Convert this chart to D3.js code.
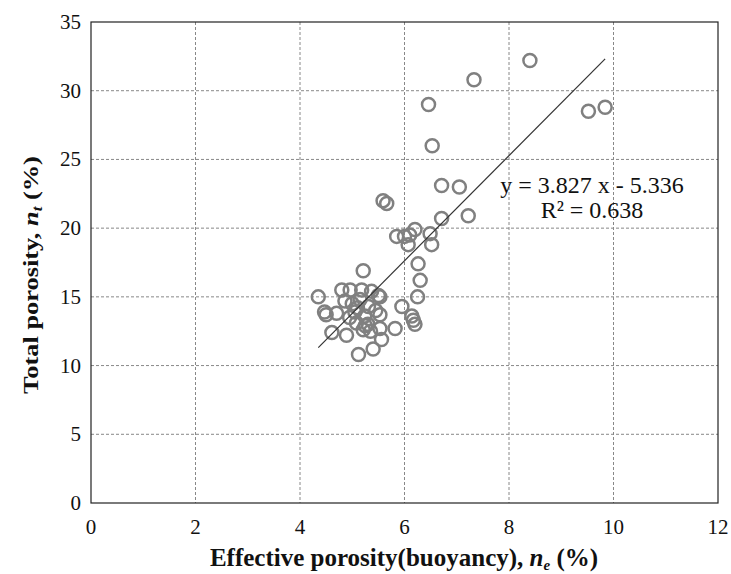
<!DOCTYPE html>
<html>
<head>
<meta charset="utf-8">
<script src="https://cdn.jsdelivr.net/npm/d3@7"></script>
<style>
  body { margin: 0; background: #fff; }
  svg text { font-family: "Liberation Serif", "Times New Roman", serif; fill: #111; }
</style>
</head>
<body>
<div id="content"></div>
<script>
const svgWidth = 731, svgHeight = 574;

// effective porosity (x) and total porosity (y)
const effPorosity = [
  8.40, 7.33, 6.46, 6.53, 9.52, 9.84, 6.71, 7.05, 7.22, 6.71,
  5.59, 5.66,
  5.85, 6.00, 6.10, 6.20, 6.07, 6.49, 6.52,
  6.26, 6.30, 6.25, 5.95, 6.14, 6.17, 6.20, 5.82,
  5.21,
  4.35, 4.47, 4.50, 4.61, 4.80, 4.96, 5.18, 5.37, 5.50, 5.53,
  4.86, 4.70, 4.89, 5.21, 5.53, 5.53, 5.56, 5.40, 5.12,
  5.05, 5.24, 5.31, 5.08, 5.00, 5.15, 5.30, 5.25, 5.45, 4.95, 5.10, 5.35
];
const totPorosity = [
  32.2, 30.8, 29.0, 26.0, 28.5, 28.8, 23.1, 23.0, 20.9, 20.7,
  22.0, 21.8,
  19.4, 19.4, 19.5, 19.9, 18.8, 19.6, 18.8,
  17.4, 16.2, 15.0, 14.3, 13.6, 13.3, 13.0, 12.7,
  16.9,
  15.0, 13.9, 13.7, 12.4, 15.5, 15.5, 15.5, 15.4, 15.1, 15.0,
  14.7, 13.8, 12.2, 12.6, 13.7, 12.7, 11.9, 11.2, 10.8,
  13.9, 13.6, 14.3, 13.1, 14.5, 14.8, 13.0, 12.9, 14.0, 13.5, 14.2, 12.5
];
const xTicks = [0, 2, 4, 6, 8, 10, 12];
const yTicks = [0, 5, 10, 15, 20, 25, 30, 35];
const slope = 3.827, intercept = -5.336, rSquared = 0.638;

const plot = { left: 91, right: 718, top: 22, bottom: 503 };

const svg = d3.select("#content").append("svg")
  .attr("width", svgWidth)
  .attr("height", svgHeight);

const x = d3.scaleLinear().domain([0, 12]).range([plot.left, plot.right]);
const y = d3.scaleLinear().domain([0, 35]).range([plot.bottom, plot.top]);

// grid
svg.append("g").selectAll("line")
  .data(xTicks.slice(1, -1)).enter().append("line")
  .attr("x1", d => x(d)).attr("x2", d => x(d))
  .attr("y1", plot.top).attr("y2", plot.bottom)
  .attr("stroke", "#888").attr("stroke-width", 1).attr("stroke-dasharray", "3,2");
svg.append("g").selectAll("line")
  .data(yTicks.slice(1, -1)).enter().append("line")
  .attr("y1", d => y(d)).attr("y2", d => y(d))
  .attr("x1", plot.left).attr("x2", plot.right)
  .attr("stroke", "#888").attr("stroke-width", 1).attr("stroke-dasharray", "3,2");

// frame
svg.append("rect")
  .attr("x", plot.left).attr("y", plot.top)
  .attr("width", plot.right - plot.left).attr("height", plot.bottom - plot.top)
  .attr("fill", "none").attr("stroke", "#222").attr("stroke-width", 1.2);

// tick labels
svg.append("g").selectAll("text")
  .data(xTicks).enter().append("text")
  .attr("x", d => x(d)).attr("y", plot.bottom + 31)
  .attr("text-anchor", "middle").attr("font-size", 21)
  .text(d => d);
svg.append("g").selectAll("text")
  .data(yTicks).enter().append("text")
  .attr("x", plot.left - 10).attr("y", d => y(d) + 7)
  .attr("text-anchor", "end").attr("font-size", 21)
  .text(d => d);

// points
const points = effPorosity.map((v, i) => [v, totPorosity[i]]);
svg.append("g").selectAll("circle")
  .data(points).enter().append("circle")
  .attr("cx", d => x(d[0])).attr("cy", d => y(d[1]))
  .attr("r", 6.5)
  .attr("fill", "none").attr("stroke", "#808080").attr("stroke-width", 2.5);

// trend line
const [xMin, xMax] = d3.extent(effPorosity);
svg.append("line")
  .attr("x1", x(xMin)).attr("y1", y(slope * xMin + intercept))
  .attr("x2", x(xMax)).attr("y2", y(slope * xMax + intercept))
  .attr("stroke", "#333").attr("stroke-width", 1.2);

// equation
svg.append("text")
  .attr("x", 592).attr("y", 193)
  .attr("text-anchor", "middle").attr("font-size", 24)
  .text(`y = ${slope} x - ${Math.abs(intercept)}`);
svg.append("text")
  .attr("x", 592).attr("y", 218)
  .attr("text-anchor", "middle").attr("font-size", 24)
  .text(`R² = ${rSquared}`);

// axis titles
const xt = svg.append("text")
  .attr("x", 404).attr("y", 566)
  .attr("text-anchor", "middle").attr("font-size", 25).attr("font-weight", "bold");
xt.append("tspan").text("Effective porosity(buoyancy), ");
xt.append("tspan").attr("font-style", "italic").text("n");
xt.append("tspan").attr("font-style", "italic").attr("font-size", 15).attr("dy", 4).text("e");
xt.append("tspan").attr("dy", -4).text(" (%)");

const yt = svg.append("text")
  .attr("transform", "translate(38,275) rotate(-90) scale(1.2,1)")
  .attr("text-anchor", "middle").attr("font-size", 22).attr("font-weight", "bold");
yt.append("tspan").text("Total porosity, ");
yt.append("tspan").attr("font-style", "italic").text("n");
yt.append("tspan").attr("font-style", "italic").attr("font-size", 14).attr("dy", 4).text("t");
yt.append("tspan").attr("dy", -4).text(" (%)");
</script>
</body>
</html>
